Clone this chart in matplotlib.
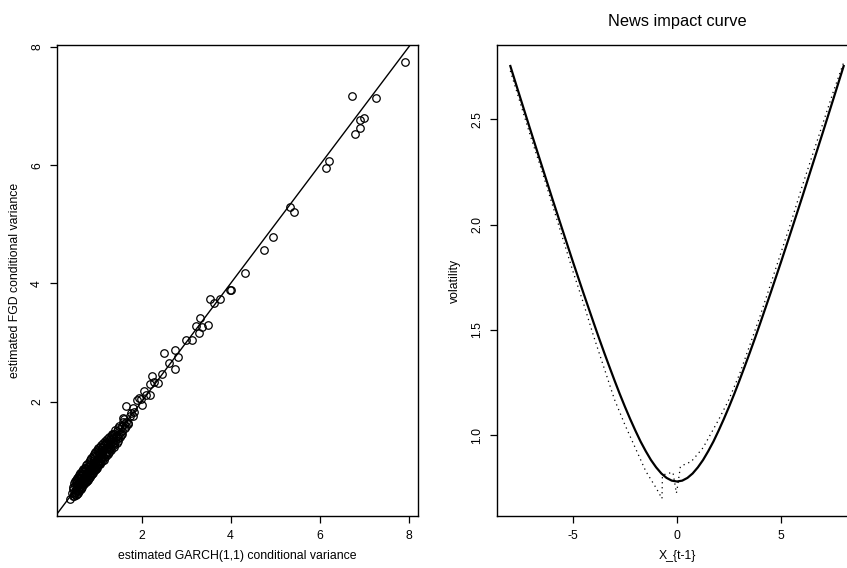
import numpy as np
import matplotlib
matplotlib.use("Agg")
import matplotlib.pyplot as plt

plt.rcParams["font.family"] = ["Liberation Sans", "DejaVu Sans"]
plt.rcParams["axes.unicode_minus"] = False

# left panel: estimated conditional variances (GARCH(1,1) vs FGD)
garch_var = [
    7.91, 6.73, 7.27, 6.99, 6.91, 6.91, 6.80, 6.20, 6.15, 5.34, 5.43, 4.96, 4.75,
    4.32, 3.98, 4.01, 3.54, 3.77, 3.63, 3.32, 3.23, 3.35, 3.50, 3.29, 2.99, 3.14,
    2.50, 2.76, 2.82, 2.62, 2.74, 2.45, 2.23, 2.38, 2.29, 2.20, 2.05, 2.20, 2.11,
    1.94, 1.89, 1.99, 2.02, 1.65, 1.80, 1.84, 1.77, 1.73, 1.80, 1.58, 1.69, 1.59,
    0.40, 0.43, 0.45, 0.47, 0.48, 0.50, 0.50, 0.52, 0.53, 0.54, 0.55, 0.56, 0.57,
    0.58, 0.59, 0.60, 0.61, 0.62, 0.63, 0.64, 0.65, 0.66, 0.67, 0.68, 0.69, 0.70,
    0.71, 0.72, 0.73, 0.74, 0.75, 0.76, 0.77, 0.78, 0.79, 0.80, 0.81, 0.82, 0.83,
    0.84, 0.85, 0.86, 0.87, 0.88, 0.89, 0.90, 0.91, 0.92, 0.93, 0.94, 0.95, 0.96,
    0.97, 0.98, 0.99, 1.00, 1.01, 1.02, 1.03, 1.04, 1.05, 1.06, 1.07, 1.08, 1.09,
    1.10, 1.11, 1.12, 1.13, 1.14, 1.15, 1.16, 1.17, 1.18, 1.19, 1.20, 1.22, 1.24,
    1.25, 1.26, 1.28, 1.30, 1.31, 1.32, 1.34, 1.36, 1.37, 1.38, 1.40, 1.42, 1.44,
    1.45, 1.47, 1.49, 1.51, 1.53, 1.55, 1.57, 1.60, 1.62, 1.64,
    0.60, 0.70, 0.80, 0.90, 1.00, 1.10, 1.20, 1.30, 0.55, 0.65, 0.75, 0.85, 0.95,
    1.05, 1.15, 1.25, 1.35, 1.45, 0.72, 0.88,
    0.46, 0.48, 0.51, 0.52, 0.54, 0.57, 0.58, 0.60, 0.62, 0.63, 0.66, 0.68, 0.69,
    0.72, 0.74, 0.75, 0.78, 0.79, 0.81, 0.84, 0.86, 0.87, 0.90, 0.92, 0.93, 0.96,
    0.98, 0.99, 1.02, 1.04, 1.06, 1.09, 1.12, 1.14, 1.17, 1.20, 1.22, 1.26, 1.29,
    1.33, 1.38, 1.41, 1.48, 1.50, 1.56, 1.60, 1.66, 1.70,
    0.49, 0.53, 0.56, 0.61, 0.64, 0.67, 0.71, 0.73, 0.77, 0.82, 0.83, 0.89, 0.94,
    0.97, 1.01, 1.07, 1.11, 1.16, 1.21, 1.27, 1.34, 1.39, 1.46, 1.52,
]
fgd_var = [
    7.74, 7.18, 7.14, 6.80, 6.76, 6.63, 6.53, 6.08, 5.96, 5.29, 5.21, 4.78, 4.56,
    4.18, 3.89, 3.89, 3.73, 3.73, 3.67, 3.42, 3.28, 3.27, 3.30, 3.16, 3.05, 3.04,
    2.82, 2.88, 2.76, 2.66, 2.55, 2.47, 2.44, 2.32, 2.34, 2.30, 2.18, 2.12, 2.12,
    2.07, 2.02, 2.04, 1.95, 1.93, 1.90, 1.82, 1.81, 1.75, 1.76, 1.72, 1.63, 1.66,
    0.36, 0.45, 0.40, 0.52, 0.44, 0.58, 0.47, 0.50, 0.62, 0.44, 0.55, 0.66, 0.50,
    0.60, 0.48, 0.70, 0.56, 0.64, 0.52, 0.74, 0.60, 0.68, 0.56, 0.78, 0.64, 0.72,
    0.60, 0.82, 0.68, 0.76, 0.64, 0.86, 0.72, 0.80, 0.68, 0.90, 0.76, 0.84, 0.72,
    0.93, 0.80, 0.88, 0.76, 0.97, 0.84, 0.92, 0.80, 1.02, 0.88, 0.96, 0.84, 1.06,
    0.92, 1.00, 0.88, 1.10, 0.96, 1.04, 0.92, 1.14, 1.00, 1.08, 0.96, 1.18, 1.04,
    1.12, 1.00, 1.22, 1.08, 1.16, 1.04, 1.26, 1.12, 1.20, 1.08, 1.30, 1.16, 1.24,
    1.12, 1.34, 1.20, 1.28, 1.18, 1.40, 1.26, 1.34, 1.24, 1.45, 1.32, 1.40, 1.30,
    1.50, 1.38, 1.46, 1.54, 1.44, 1.58, 1.50, 1.62, 1.56, 1.66,
    0.62, 0.66, 0.83, 0.87, 1.02, 1.06, 1.22, 1.36, 0.60, 0.70, 0.80, 0.86, 0.98,
    1.12, 1.20, 1.28, 1.38, 1.42, 0.74, 0.90,
    0.56, 0.62, 0.66, 0.42, 0.70, 0.72, 0.46, 0.76, 0.80, 0.58, 0.82, 0.60, 0.86,
    0.88, 0.66, 0.92, 0.95, 0.74, 0.98, 1.02, 0.80, 1.05, 1.08, 0.84, 1.12, 1.15,
    0.90, 1.18, 1.22, 0.96, 1.24, 1.27, 1.04, 1.30, 1.33, 1.12, 1.36, 1.40, 1.22,
    1.46, 1.30, 1.52, 1.34, 1.58, 1.46, 1.70, 1.58, 1.64,
    0.40, 0.68, 0.48, 0.74, 0.54, 0.80, 0.62, 0.88, 0.66, 0.70, 0.97, 0.78, 1.08,
    0.86, 1.16, 0.94, 1.24, 1.02, 1.32, 1.14, 1.44, 1.26, 1.56, 1.40,
]

# right panel: news impact curve
x_lag = [-8.0, -7.5, -7.0, -6.5, -6.0, -5.5, -5.0, -4.5, -4.0, -3.75, -3.5,
         -3.25, -3.0, -2.75, -2.5, -2.25, -2.0, -1.75, -1.5, -1.25, -1.0,
         -0.75, -0.5, -0.25, 0.0, 0.25, 0.5, 0.75, 1.0, 1.25, 1.5, 1.75, 2.0,
         2.25, 2.5, 2.75, 3.0, 3.25, 3.5, 3.75, 4.0, 4.5, 5.0, 5.5, 6.0, 6.5,
         7.0, 7.5, 8.0]
vol_garch = [2.753, 2.595, 2.438, 2.283, 2.128, 1.976, 1.825, 1.678, 1.534,
             1.463, 1.394, 1.327, 1.261, 1.197, 1.136, 1.078, 1.023, 0.971,
             0.925, 0.883, 0.848, 0.819, 0.798, 0.785, 0.781, 0.785, 0.798,
             0.819, 0.848, 0.883, 0.925, 0.971, 1.023, 1.078, 1.136, 1.197,
             1.261, 1.327, 1.394, 1.463, 1.534, 1.678, 1.825, 1.976, 2.128,
             2.283, 2.438, 2.595, 2.753]
x_np = [-8.0, -7.5, -7.0, -6.5, -6.0, -5.5, -5.0, -4.5, -4.0, -3.5, -3.0, -2.5,
        -2.0, -1.5, -1.0, -0.72, -0.70, -0.45, -0.19, -0.03, 0.0, 0.16, 0.21,
        0.69, 1.25, 1.97, 2.45, 3.0, 3.5, 4.0, 4.5, 5.0, 5.5, 6.0, 6.5, 7.0,
        7.5, 8.0]
vol_np = [2.73, 2.57, 2.41, 2.26, 2.10, 1.94, 1.78, 1.63, 1.47, 1.32, 1.17, 1.05,
          0.94, 0.83, 0.75, 0.70, 0.81, 0.82, 0.823, 0.726, 0.74, 0.849, 0.855,
          0.876, 0.941, 1.069, 1.161, 1.29, 1.43, 1.57, 1.72, 1.87, 2.02, 2.18,
          2.33, 2.48, 2.63, 2.77]


def rlim(v):
    lo, hi = min(v), max(v)
    d = 0.04 * (hi - lo)
    return lo - d, hi + d


def rstyle(ax):
    for s in ax.spines.values():
        s.set_linewidth(1.0)
    ax.tick_params(direction="out", length=5, width=0.9, labelsize=8.8, pad=5)
    for t in ax.get_yticklabels():
        t.set_rotation(90)
        t.set_va("center")


fig = plt.figure(figsize=(8.47, 5.68), dpi=100)
ax1 = fig.add_axes([57 / 847, 52 / 568, 361 / 847, 471 / 568])
ax2 = fig.add_axes([497 / 847, 52 / 568, 360 / 847, 471 / 568])

ax1.plot(garch_var, fgd_var, "o", mfc="none", mec="black", ms=5.4, mew=0.9)
ax1.set_xlim(rlim(garch_var))
ax1.set_ylim(rlim(fgd_var))
ax1.plot([0, 9], [0, 9], color="black", linewidth=1.0)
ax1.set_xticks([2, 4, 6, 8])
ax1.set_yticks([2, 4, 6, 8])
ax1.set_xlabel("estimated GARCH(1,1) conditional variance", fontsize=8.8)
ax1.set_ylabel("estimated FGD conditional variance", fontsize=8.8)
ax1.xaxis.set_label_coords(0.5, -0.072)
ax1.yaxis.set_label_coords(-0.1, 0.5)
rstyle(ax1)

ax2.plot(x_lag, vol_garch, color="black", linewidth=1.6)
ax2.plot(x_np, vol_np, color="black", linewidth=0.9, dashes=(1, 3))
ax2.set_xlim(rlim(x_lag))
ax2.set_ylim(rlim(vol_np))
ax2.set_xticks([-5, 0, 5])
ax2.set_yticks([1.0, 1.5, 2.0, 2.5])
ax2.set_yticklabels(["1.0", "1.5", "2.0", "2.5"])
ax2.set_xlabel("X_{t-1}", fontsize=8.8)
ax2.set_ylabel("volatility", fontsize=8.8)
ax2.xaxis.set_label_coords(0.5, -0.072)
ax2.yaxis.set_label_coords(-0.1, 0.5)
ax2.set_title("News impact curve", fontsize=11.8, pad=14)
rstyle(ax2)

fig.savefig("out.png", dpi=100)
